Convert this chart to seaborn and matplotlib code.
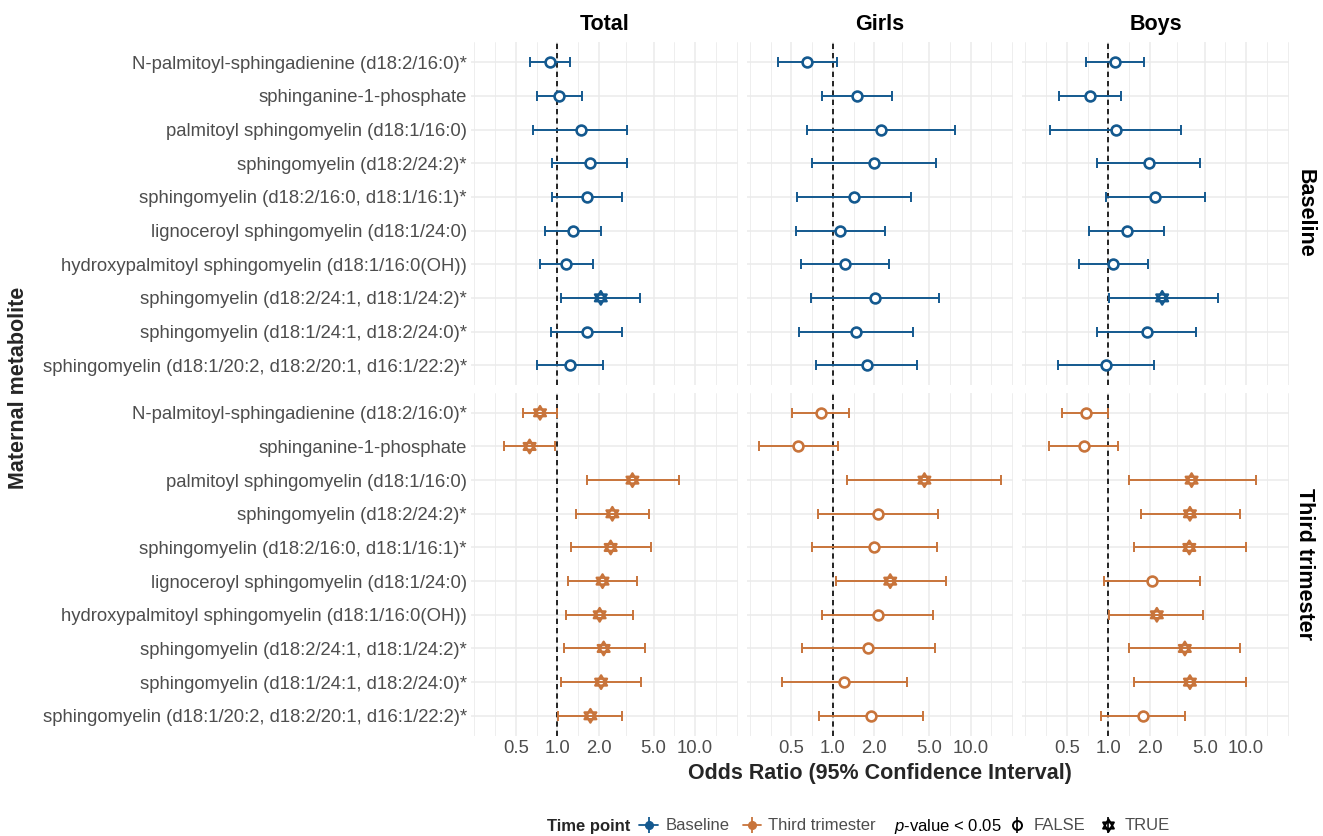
import numpy as np
import pandas as pd
import matplotlib
matplotlib.use("Agg")
import matplotlib.pyplot as plt
import seaborn as sns
from matplotlib.lines import Line2D
from matplotlib.path import Path
from matplotlib.ticker import FixedLocator, NullFormatter
from matplotlib.legend_handler import HandlerTuple

# ---------------- data ----------------
metabolites = [
    "N-palmitoyl-sphingadienine (d18:2/16:0)*",
    "sphinganine-1-phosphate",
    "palmitoyl sphingomyelin (d18:1/16:0)",
    "sphingomyelin (d18:2/24:2)*",
    "sphingomyelin (d18:2/16:0, d18:1/16:1)*",
    "lignoceroyl sphingomyelin (d18:1/24:0)",
    "hydroxypalmitoyl sphingomyelin (d18:1/16:0(OH))",
    "sphingomyelin (d18:2/24:1, d18:1/24:2)*",
    "sphingomyelin (d18:1/24:1, d18:2/24:0)*",
    "sphingomyelin (d18:1/20:2, d18:2/20:1, d16:1/22:2)*",
]
groups = ["Total", "Girls", "Boys"]
time_points = ["Baseline", "Third trimester"]

total_base_or = [0.88, 1.03, 1.48, 1.72, 1.64, 1.29, 1.15, 2.07, 1.63, 1.24]
total_base_lo = [0.63, 0.71, 0.67, 0.91, 0.91, 0.81, 0.75, 1.07, 0.90, 0.71]
total_base_hi = [1.23, 1.51, 3.22, 3.22, 2.97, 2.06, 1.82, 3.98, 2.97, 2.13]
total_base_sig = [False, False, False, False, False, False, False, True, False, False]

girls_base_or = [0.65, 1.50, 2.24, 1.98, 1.42, 1.13, 1.22, 2.04, 1.48, 1.76]
girls_base_lo = [0.40, 0.84, 0.65, 0.71, 0.55, 0.54, 0.59, 0.70, 0.57, 0.76]
girls_base_hi = [1.07, 2.68, 7.66, 5.64, 3.67, 2.39, 2.56, 5.93, 3.82, 4.06]
girls_base_sig = [False] * 10

boys_base_or = [1.12, 0.74, 1.14, 1.97, 2.20, 1.37, 1.09, 2.46, 1.90, 0.96]
boys_base_lo = [0.69, 0.44, 0.38, 0.83, 0.97, 0.73, 0.61, 1.01, 0.83, 0.43]
boys_base_hi = [1.81, 1.24, 3.36, 4.59, 5.02, 2.55, 1.95, 6.20, 4.32, 2.14]
boys_base_sig = [False, False, False, False, False, False, False, True, False, False]

total_tt_or = [0.75, 0.63, 3.51, 2.51, 2.44, 2.13, 2.03, 2.17, 2.08, 1.74]
total_tt_lo = [0.56, 0.41, 1.63, 1.36, 1.25, 1.19, 1.15, 1.11, 1.07, 1.02]
total_tt_hi = [0.99, 0.96, 7.67, 4.65, 4.82, 3.78, 3.57, 4.31, 4.07, 2.97]
total_tt_sig = [True] * 10

girls_tt_or = [0.82, 0.56, 4.62, 2.13, 2.00, 2.61, 2.12, 1.81, 1.20, 1.90]
girls_tt_lo = [0.51, 0.29, 1.27, 0.78, 0.71, 1.05, 0.84, 0.60, 0.43, 0.79]
girls_tt_hi = [1.32, 1.09, 16.7, 5.80, 5.70, 6.63, 5.30, 5.52, 3.46, 4.49]
girls_tt_sig = [False, False, True, False, False, True, False, False, False, False]

boys_tt_or = [0.69, 0.67, 4.02, 3.91, 3.87, 2.07, 2.25, 3.59, 3.91, 1.79]
boys_tt_lo = [0.46, 0.37, 1.41, 1.73, 1.54, 0.93, 1.02, 1.41, 1.54, 0.89]
boys_tt_hi = [1.00, 1.18, 11.7, 9.05, 9.90, 4.64, 4.88, 9.05, 9.95, 3.60]
boys_tt_sig = [False, False, True, True, True, False, True, True, True, False]

x_breaks = [0.5, 1.0, 2.0, 5.0, 10.0]
x_labels = ["0.5", "1.0", "2.0", "5.0", "10.0"]

palette = {"Baseline": "#14598F", "Third trimester": "#C8743B"}

panels = [
    ("Baseline", "Total", total_base_or, total_base_lo, total_base_hi, total_base_sig),
    ("Baseline", "Girls", girls_base_or, girls_base_lo, girls_base_hi, girls_base_sig),
    ("Baseline", "Boys", boys_base_or, boys_base_lo, boys_base_hi, boys_base_sig),
    ("Third trimester", "Total", total_tt_or, total_tt_lo, total_tt_hi, total_tt_sig),
    ("Third trimester", "Girls", girls_tt_or, girls_tt_lo, girls_tt_hi, girls_tt_sig),
    ("Third trimester", "Boys", boys_tt_or, boys_tt_lo, boys_tt_hi, boys_tt_sig),
]
rows = []
for tp, grp, o, lo, hi, sg in panels:
    for i, m in enumerate(metabolites):
        rows.append(dict(time=tp, group=grp, metabolite=m, ypos=i,
                         OR=o[i], lo=lo[i], hi=hi[i], sig=sg[i]))
df = pd.DataFrame(rows)

# ---------------- style ----------------
sns.set_theme(style="whitegrid")
plt.rcParams["font.family"] = ["Liberation Sans", "DejaVu Sans"]
plt.rcParams["mathtext.fontset"] = "custom"
plt.rcParams["mathtext.it"] = "Liberation Sans:italic"
plt.rcParams["mathtext.rm"] = "Liberation Sans"

GRID = "#EBEBEB"
TXT = "#4D4D4D"
BOLD = 15.5
TICK = 13.3

# star-of-David marker as two centroid-centred triangles
TRI_UP = Path([(0, 1), (-0.866, -0.5), (0.866, -0.5), (0, 1)],
              [Path.MOVETO, Path.LINETO, Path.LINETO, Path.CLOSEPOLY])
TRI_DN = Path([(0, -1), (-0.866, 0.5), (0.866, 0.5), (0, -1)],
              [Path.MOVETO, Path.LINETO, Path.LINETO, Path.CLOSEPOLY])

g = sns.FacetGrid(df, row="time", col="group", row_order=time_points,
                  col_order=groups, sharex=True, sharey=True,
                  height=3.5, aspect=0.8, despine=False)


def draw(data, **kw):
    ax = plt.gca()
    c = palette[data["time"].iloc[0]]
    ax.axvline(1.0, color="black", ls=(0, (3.2, 2.4)), lw=1.2, zorder=1.5)
    ax.errorbar(data["OR"], data["ypos"],
                xerr=[data["OR"] - data["lo"], data["hi"] - data["OR"]],
                fmt="none", ecolor=c, elinewidth=1.4, capsize=3.3,
                capthick=1.4, zorder=2)
    ns = data[~data["sig"]]
    sg = data[data["sig"]]
    ax.scatter(ns["OR"], ns["ypos"], s=50, marker="o", facecolors="white",
               edgecolors=c, linewidths=1.9, zorder=3)
    for mk in [TRI_UP, TRI_DN]:
        ax.scatter(sg["OR"], sg["ypos"], s=95, marker=mk, facecolors="none",
                   edgecolors=c, linewidths=1.7, zorder=3)


g.map_dataframe(draw)

fig = g.figure
fig.set_size_inches(13.23, 8.36)
fig.set_dpi(100)
fig.subplots_adjust(left=471 / 1323, right=1289 / 1323,
                    top=1 - 42 / 836, bottom=1 - 736 / 836,
                    wspace=0.032, hspace=0.021)

# ggplot-like limits on log scale (5% expansion)
lo_all = np.log10(df["lo"].min())
hi_all = np.log10(df["hi"].max())
span = hi_all - lo_all
xlim = (10 ** (lo_all - 0.05 * span), 10 ** (hi_all + 0.05 * span))

lb = np.log10(x_breaks)
bd = lb[1] - lb[0]
ext = np.concatenate([[lb[0] - bd], lb, [lb[-1] + bd]])
minor = []
for a, b in zip(ext[:-1], ext[1:]):
    minor.extend([a, (a + b) / 2])
minor.append(ext[-1])
minor = [10 ** m for m in minor if m not in lb]

for (ri, ci), ax in np.ndenumerate(g.axes):
    ax.set_xscale("log")
    ax.set_xlim(*xlim)
    ax.set_ylim(len(metabolites) - 1 + 0.6, -0.6)
    ax.set_xticks(x_breaks)
    ax.xaxis.set_minor_locator(FixedLocator(minor))
    ax.xaxis.set_minor_formatter(NullFormatter())
    ax.set_yticks(range(len(metabolites)))
    ax.grid(which="major", axis="both", color=GRID, lw=1.1)
    ax.grid(which="minor", axis="x", color=GRID, lw=0.6)
    ax.set_axisbelow(True)
    for s in ax.spines.values():
        s.set_visible(False)
    ax.tick_params(axis="both", which="both", length=0, colors=TXT,
                   labelsize=TICK, pad=3)
    ax.set_title("")
    ax.set_xlabel("")
    ax.set_ylabel("")
    if ri == 1:
        ax.set_xticklabels(x_labels)
    else:
        ax.tick_params(axis="x", labelbottom=False)
    if ci == 0:
        ax.set_yticklabels(metabolites)
    else:
        ax.tick_params(axis="y", labelleft=False)
    if ri == 0:
        ax.text(0.5, 1.0 + 17 / 343, groups[ci], transform=ax.transAxes,
                ha="center", va="center", fontsize=BOLD, fontweight="bold",
                color="black")
    if ci == 2:
        ax.text(1.0 + 16 / 267, 0.5, time_points[ri], transform=ax.transAxes,
                ha="center", va="center", rotation=-90, fontsize=BOLD,
                fontweight="bold", color="black")

fig.text(19 / 1323, 1 - 388 / 836, "Maternal metabolite", rotation=90,
         ha="center", va="center", fontsize=BOLD, fontweight="bold")
fig.text(880 / 1323, 1 - 774 / 836, "Odds Ratio (95% Confidence Interval)",
         ha="center", va="center", fontsize=BOLD, fontweight="bold")

# ---------------- legends ----------------
LEG = 12.0
W = 1323.0
ly = 1 - 826 / 836
fig.canvas.draw()
renderer = fig.canvas.get_renderer()
overlay = {tuple: HandlerTuple(ndivide=1, pad=0)}

t1 = fig.text(547 / W, ly, "Time point", ha="left", va="center",
              fontsize=LEG, fontweight="bold")
x_after = t1.get_window_extent(renderer).x1 + 9

h_time = []
for tp in time_points:
    c = palette[tp]
    h_time.append((Line2D([], [], color=c, lw=1.3),
                   Line2D([], [], color=c, marker="|", ms=11, mew=1.3, ls="none"),
                   Line2D([], [], color=c, marker="o", ms=5.5, ls="none")))
leg1 = fig.legend(h_time, time_points, loc="center left",
                  bbox_to_anchor=(x_after / W, ly), ncol=2, frameon=False,
                  fontsize=LEG, handlelength=1.1, handletextpad=0.45,
                  columnspacing=0.8, borderpad=0, borderaxespad=0,
                  handler_map=overlay)
for t in leg1.get_texts():
    t.set_color(TXT)
fig.canvas.draw()
x_after = leg1.get_window_extent(renderer).x1 + 18

t2 = fig.text(x_after / W, ly, "$p$-value < 0.05", ha="left", va="center",
              fontsize=LEG, color="black")
x_after = t2.get_window_extent(renderer).x1 + 6

h_sig = [
    (Line2D([], [], color="black", marker="|", ms=11, mew=1.2, ls="none"),
     Line2D([], [], color="black", marker="o", ms=6.5, mfc="none", mew=1.4, ls="none")),
    (Line2D([], [], color="black", marker="|", ms=11, mew=1.2, ls="none"),
     Line2D([], [], color="black", marker=TRI_UP, ms=9, mfc="none", mew=1.4, ls="none"),
     Line2D([], [], color="black", marker=TRI_DN, ms=9, mfc="none", mew=1.4, ls="none")),
]
leg2 = fig.legend(h_sig, ["FALSE", "TRUE"], loc="center left",
                  bbox_to_anchor=(x_after / W, ly), ncol=2, frameon=False,
                  fontsize=LEG, handlelength=1.1, handletextpad=0.45,
                  columnspacing=0.8, borderpad=0, borderaxespad=0,
                  handler_map=overlay)
for t in leg2.get_texts():
    t.set_color(TXT)

fig.savefig("out.png", dpi=100)
